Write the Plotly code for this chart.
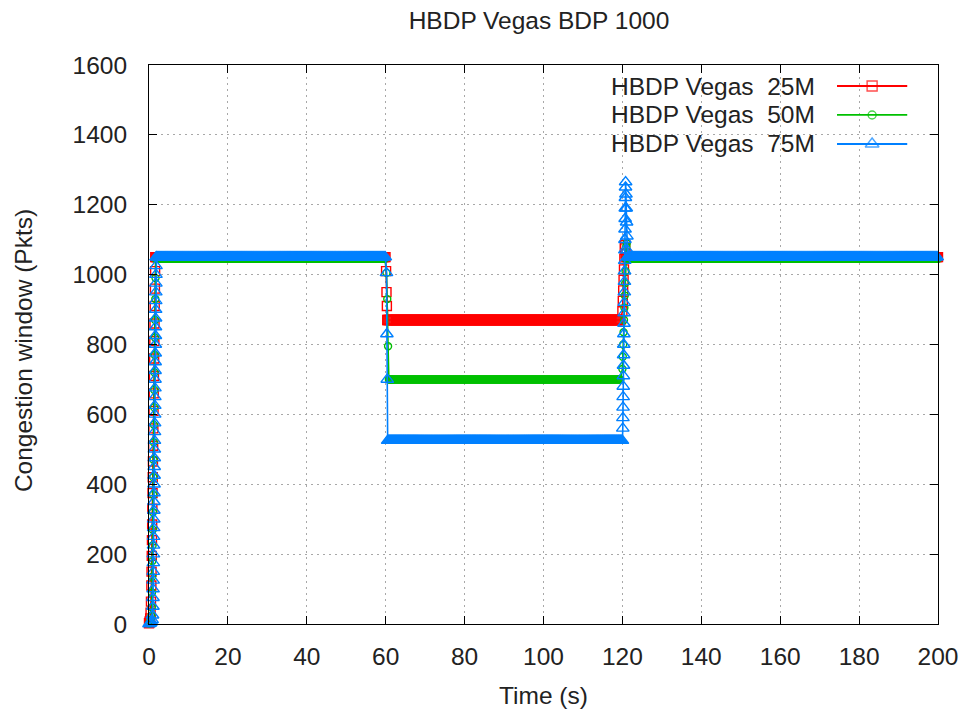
import numpy as np
import plotly.graph_objects as go

# ---------------------------------------------------------------------------
# Congestion-window log for HBDP Vegas, BDP = 1000 packets
# ---------------------------------------------------------------------------
SAMPLE_DT = 0.25          # logging interval of the steady-state samples (s)

series_names = ["HBDP Vegas\u00a0 25M", "HBDP Vegas\u00a0 50M", "HBDP Vegas\u00a0 75M"]
series_colors = ["#ff0000", "#00c000", "#0080ff"]
series_symbols = ["square-open", "circle-open", "triangle-up-open"]
series_sizes = [9, 7, 11]

# --- 25M flow -------------------------------------------------------------
ramp_t_25 = [0.0, 0.1, 0.2, 0.3, 0.4, 0.5, 0.6, 0.65, 0.7, 0.75, 0.8, 0.85, 0.9, 0.95,
             1.0, 1.05, 1.1, 1.15, 1.2, 1.25, 1.3, 1.35, 1.4, 1.45, 1.5, 1.55, 1.6]
ramp_w_25 = [2, 4, 8, 16, 32, 64, 110, 150, 195, 240, 285, 330, 375, 420,
             465, 510, 560, 610, 660, 710, 760, 810, 860, 910, 960, 1010, 1050]
drop_t_25 = [60.1, 60.2, 60.3, 60.4]
drop_w_25 = [1010, 950, 910, 870]
rise_t_25 = [120.0, 120.1, 120.2, 120.3, 120.4, 120.5, 120.6, 120.7, 120.8]
rise_w_25 = [895, 925, 955, 985, 1015, 1045, 1075, 1085, 1060]
# steady levels: (start s, end s, cwnd pkts)
level_25 = [(1.7, 60.0, 1050), (60.5, 119.5, 870), (121.0, 200.0, 1050)]

# --- 50M flow -------------------------------------------------------------
ramp_t_50 = [0.0, 0.15, 0.3, 0.45, 0.6, 0.7, 0.75, 0.8, 0.85, 0.9, 0.95, 1.0, 1.05,
             1.1, 1.15, 1.2, 1.25, 1.3, 1.35, 1.4, 1.45, 1.5, 1.55, 1.6, 1.65, 1.7]
ramp_w_50 = [1, 3, 6, 12, 24, 48, 90, 135, 180, 225, 270, 320, 370,
             420, 470, 520, 570, 620, 670, 720, 770, 820, 870, 930, 990, 1045]
drop_t_50 = [60.2, 60.4, 60.6, 60.8]
drop_w_50 = [1005, 930, 795, 700]
rise_t_50 = [120.0, 120.1, 120.2, 120.3, 120.4, 120.5, 120.6, 120.7, 120.8, 120.9, 121.0, 121.1]
rise_w_50 = [730, 765, 800, 835, 870, 905, 940, 975, 1010, 1045, 1080, 1090]
level_50 = [(1.8, 60.0, 1045), (61.0, 119.5, 700), (121.2, 200.0, 1045)]

# --- 75M flow -------------------------------------------------------------
ramp_t_75 = [0.0, 0.2, 0.4, 0.6, 0.8, 0.9, 1.0,
             1.02, 1.04, 1.06, 1.08, 1.10, 1.12, 1.14, 1.16, 1.18, 1.20,
             1.22, 1.24, 1.26, 1.28, 1.30, 1.32, 1.34, 1.36, 1.38, 1.40,
             1.42, 1.44, 1.46, 1.48, 1.50, 1.52, 1.54, 1.56, 1.58, 1.60,
             1.62, 1.64, 1.66, 1.68, 1.70, 1.72, 1.74, 1.76, 1.78, 1.80]
ramp_w_75 = [0, 1, 3, 6, 12, 25, 50,
             75, 100, 125, 150, 175, 200, 225, 250, 275, 300,
             325, 350, 375, 400, 425, 450, 475, 500, 525, 550,
             575, 600, 625, 650, 675, 700, 725, 750, 775, 800,
             825, 850, 875, 900, 925, 950, 975, 1000, 1025, 1050]
drop_t_75 = [60.2, 60.3, 60.4]
drop_w_75 = [1005, 830, 700]
rise_t_75 = [120.10, 120.13, 120.16, 120.19, 120.22, 120.25, 120.28, 120.31, 120.34, 120.37,
             120.40, 120.43, 120.46, 120.49, 120.52, 120.55, 120.58, 120.61, 120.64, 120.67,
             120.70, 120.73, 120.76, 120.79, 120.82, 120.90, 120.98, 121.06, 121.14, 121.22]
rise_w_75 = [560, 590, 620, 650, 680, 710, 740, 770, 800, 830,
             860, 890, 920, 950, 980, 1010, 1040, 1070, 1100, 1130,
             1160, 1190, 1220, 1250, 1265, 1230, 1190, 1150, 1110, 1070]
level_75 = [(1.9, 60.0, 1050), (60.5, 120.0, 525), (121.3, 200.0, 1050)]

x_ticks = list(range(0, 201, 20))
y_ticks = list(range(0, 1601, 200))


def level_samples(t0, t1, w):
    t = np.arange(t0, t1 + 1e-9, SAMPLE_DT)
    return t, np.full(t.shape, float(w))


def assemble(ramp_t, ramp_w, levels, drop_t, drop_w, rise_t, rise_w):
    parts = [(np.array(ramp_t), np.array(ramp_w, float)),
             level_samples(*levels[0]),
             (np.array(drop_t), np.array(drop_w, float)),
             level_samples(*levels[1]),
             (np.array(rise_t), np.array(rise_w, float)),
             level_samples(*levels[2])]
    return np.concatenate([p[0] for p in parts]), np.concatenate([p[1] for p in parts])


series = [
    assemble(ramp_t_25, ramp_w_25, level_25, drop_t_25, drop_w_25, rise_t_25, rise_w_25),
    assemble(ramp_t_50, ramp_w_50, level_50, drop_t_50, drop_w_50, rise_t_50, rise_w_50),
    assemble(ramp_t_75, ramp_w_75, level_75, drop_t_75, drop_w_75, rise_t_75, rise_w_75),
]

FONT = "Liberation Sans, Arial, sans-serif"
TXT = "#222222"
FS = 24.5

fig = go.Figure()

for (t, w), name, col, sym, sz in zip(series, series_names, series_colors,
                                      series_symbols, series_sizes):
    fig.add_trace(go.Scatter(
        x=t, y=w, name=name, mode="lines+markers", cliponaxis=False,
        line=dict(color=col, width=1.6),
        marker=dict(symbol=sym, size=sz, color=col, line=dict(color=col, width=1.4)),
        showlegend=False,
    ))

# key: label on the left, line sample with a point on the right
key_y = [0.9624, 0.9106, 0.8587]
key_x0, key_x1, key_text_x = 0.872, 0.961, 0.8466
for name, col, sym, sz, ky in zip(series_names, series_colors, series_symbols,
                                  series_sizes, key_y):
    fig.add_trace(go.Scatter(
        x=[key_x0, (key_x0 + key_x1) / 2, key_x1], y=[ky, ky, ky],
        xaxis="x2", yaxis="y2", mode="lines+markers", cliponaxis=False,
        line=dict(color=col, width=1.8),
        marker=dict(symbol=sym, size=[0, sz + 1, 0], color=col,
                    line=dict(color=col, width=1.4)),
        showlegend=False, hoverinfo="skip",
    ))
    fig.add_annotation(x=key_text_x, y=ky, xref="paper", yref="paper",
                       text=name, showarrow=False, xanchor="right", yanchor="middle",
                       font=dict(family=FONT, size=FS, color=TXT))

# opaque key background hides the grid behind it
fig.add_shape(type="rect", xref="paper", yref="paper", x0=0.575, x1=0.975, y0=0.835, y1=1.0,
              fillcolor="white", line=dict(width=0), layer="between")

axis_common = dict(
    showline=True, linecolor="black", linewidth=1, mirror="ticks",
    ticks="inside", ticklen=8, tickcolor="black", tickwidth=1,
    showgrid=True, gridcolor="#a8a8a8", gridwidth=1, griddash="2px,4px",
    zeroline=False, automargin=False, tickfont=dict(family=FONT, size=FS, color=TXT),
)

fig.update_layout(
    width=963, height=715,
    margin=dict(l=149, r=25, t=65, b=91),
    paper_bgcolor="white", plot_bgcolor="white",
    title=dict(text="HBDP Vegas BDP 1000", x=0.5597, xanchor="center",
               y=1 - 20 / 715, yanchor="middle", xref="container", yref="container",
               font=dict(family=FONT, size=FS, color=TXT)),
    xaxis=dict(range=[0, 200], tickvals=x_ticks, ticklabelstandoff=11, **axis_common),
    yaxis=dict(range=[0, 1600], tickvals=y_ticks, ticklabelstandoff=16, **axis_common),
    xaxis2=dict(overlaying="x", range=[0, 1], visible=False),
    yaxis2=dict(overlaying="y", range=[0, 1], visible=False),
    showlegend=False,
)

fig.add_annotation(x=0.5, y=-0.1288, xref="paper", yref="paper", text="Time (s)",
                   showarrow=False, xanchor="center", yanchor="middle",
                   font=dict(family=FONT, size=FS, color=TXT))
fig.add_annotation(x=-0.1597, y=0.490, xref="paper", yref="paper",
                   text="Congestion window (Pkts)", textangle=-90, showarrow=False,
                   xanchor="center", yanchor="middle",
                   font=dict(family=FONT, size=FS, color=TXT))

fig.write_html("out.html")
